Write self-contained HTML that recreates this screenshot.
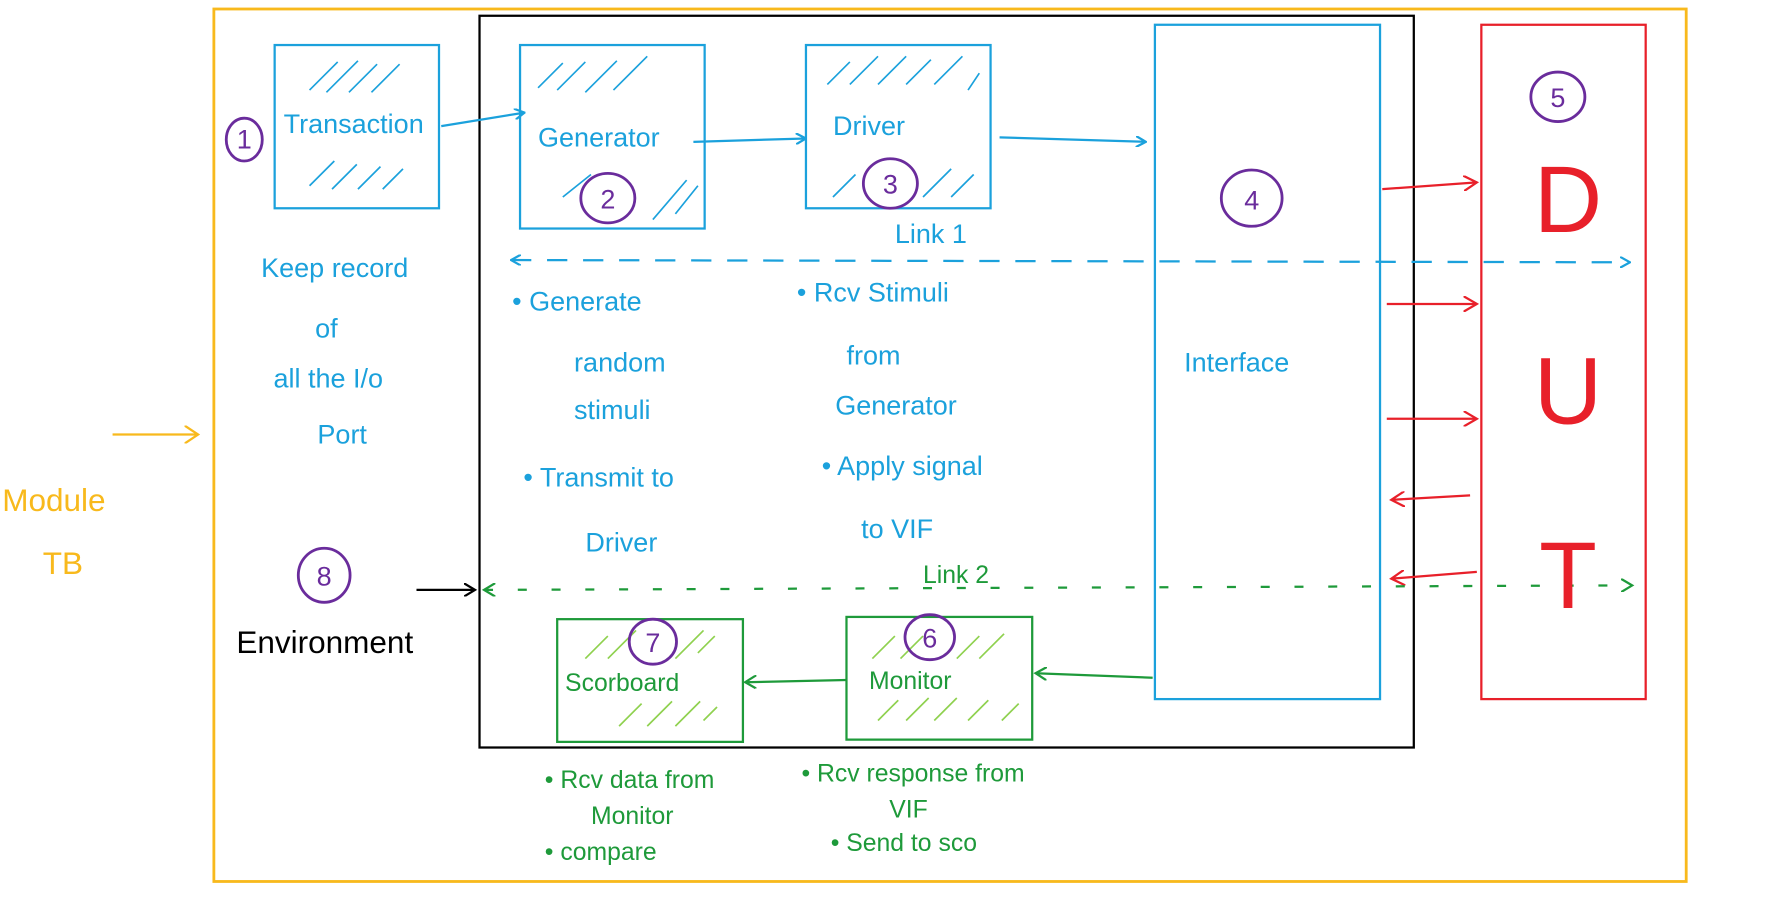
<!DOCTYPE html>
<html><head><meta charset="utf-8"><style>
html,body{margin:0;padding:0;background:#fff;}
svg{display:block}
text{font-family:"Liberation Sans",sans-serif;}
</style></head><body>
<svg width="1765" height="913" viewBox="0 0 1568 811" preserveAspectRatio="none" xmlns="http://www.w3.org/2000/svg">
<defs>
<marker id="ab" markerWidth="10" markerHeight="10" refX="9" refY="5" orient="auto-start-reverse" markerUnits="userSpaceOnUse"><path d="M0,0 L9,5 L0,10" fill="none" stroke="#1ba1dc" stroke-width="2"/></marker>
<marker id="ar" markerWidth="14" markerHeight="14" refX="12" refY="7" orient="auto" markerUnits="userSpaceOnUse"><path d="M0,0 L12,7 L0,14" fill="none" stroke="#e8202a" stroke-width="2"/></marker>
<marker id="ag" markerWidth="12" markerHeight="12" refX="10" refY="6" orient="auto-start-reverse" markerUnits="userSpaceOnUse"><path d="M0,0 L10,6 L0,12" fill="none" stroke="#1e9a3a" stroke-width="2"/></marker>
<marker id="ak" markerWidth="12" markerHeight="12" refX="10" refY="6" orient="auto" markerUnits="userSpaceOnUse"><path d="M0,0 L10,6 L0,12" fill="none" stroke="#000" stroke-width="2"/></marker>
<marker id="ay" markerWidth="14" markerHeight="16" refX="12" refY="8" orient="auto" markerUnits="userSpaceOnUse"><path d="M0,0 L12,8 L0,16" fill="none" stroke="#f8b91c" stroke-width="2"/></marker>
</defs>
<rect x="190" y="8" width="1308" height="775" fill="none" stroke="#f8b91c" stroke-width="2.5"/>
<rect x="426" y="14" width="830" height="650" fill="none" stroke="#000" stroke-width="2"/>
<g fill="none" stroke="#1ba1dc" stroke-width="2">
<rect x="244" y="40" width="146" height="145"/>
<rect x="462" y="40" width="164" height="163"/>
<rect x="716" y="40" width="164" height="145"/>
<rect x="1026" y="22" width="200" height="599"/>
</g>
<g stroke="#1ba1dc" stroke-width="1.5">
<path d="M275,80 l25,-25 M290,82 l28,-28 M310,82 l25,-25 M330,82 l25,-25 M275,165 l22,-22 M295,168 l22,-22 M318,168 l20,-20 M340,168 l18,-18"/>
<path d="M478,78 l22,-22 M495,80 l25,-25 M520,82 l28,-28 M545,80 l30,-30 M580,195 l30,-35 M600,190 l20,-25 M500,175 l25,-20"/>
<path d="M735,75 l20,-20 M755,75 l25,-25 M780,75 l25,-25 M805,75 l22,-22 M830,75 l25,-25 M740,175 l20,-20 M820,175 l25,-25 M845,175 l20,-20 M860,80 l10,-15"/>
</g>
<rect x="1316" y="22" width="146" height="599" fill="none" stroke="#e8202a" stroke-width="2"/>
<g fill="none" stroke="#1e9a3a" stroke-width="2">
<rect x="495" y="550" width="165" height="109"/>
<rect x="752" y="548" width="165" height="109"/>
</g>
<g stroke="#8fd14f" stroke-width="1.5">
<path d="M520,585 l20,-20 M540,585 l25,-25 M600,585 l25,-25 M620,580 l15,-15 M550,645 l20,-20 M575,645 l22,-22 M600,645 l22,-22 M625,640 l12,-12"/>
<path d="M775,585 l20,-20 M800,585 l20,-20 M850,585 l20,-20 M870,585 l22,-22 M780,640 l18,-18 M805,640 l20,-20 M830,640 l20,-20 M860,640 l18,-18 M890,640 l15,-15"/>
</g>
<g fill="none" stroke="#1ba1dc" stroke-width="2">
<path d="M392,112 L466,100" marker-end="url(#ab)"/>
<path d="M616,126 L716,123" marker-end="url(#ab)"/>
<path d="M888,122 L1018,126" marker-end="url(#ab)"/>
<path d="M454,231 L1448,233" stroke-dasharray="18,14" marker-end="url(#ab)" marker-start="url(#ab)"/>
</g>
<g fill="none" stroke="#e8202a" stroke-width="2">
<path d="M1228,168 L1312,162" marker-end="url(#ar)"/>
<path d="M1232,270 L1312,270" marker-end="url(#ar)"/>
<path d="M1232,372 L1312,372" marker-end="url(#ar)"/>
<path d="M1306,440 L1236,444" marker-end="url(#ar)"/>
<path d="M1312,508 L1236,514" marker-end="url(#ar)"/>
</g>
<g fill="none" stroke="#1e9a3a" stroke-width="2">
<path d="M430,524 L1450,520" stroke-dasharray="8,22" marker-end="url(#ag)" marker-start="url(#ag)"/>
<path d="M752,604 L662,606" marker-end="url(#ag)"/>
<path d="M1024,602 L920,598" marker-end="url(#ag)"/>
</g>
<path d="M370,524 L422,524" stroke="#000" stroke-width="2" fill="none" marker-end="url(#ak)"/>
<path d="M100,386 L176,386" stroke="#f8b91c" stroke-width="2" fill="none" marker-end="url(#ay)"/>
<g fill="none" stroke="#6a2c9c" stroke-width="2.5">
<ellipse cx="217" cy="124" rx="16" ry="19"/>
<ellipse cx="540" cy="176" rx="24" ry="22"/>
<ellipse cx="791" cy="163" rx="24" ry="22"/>
<ellipse cx="1112" cy="176" rx="27" ry="25"/>
<ellipse cx="1384" cy="86" rx="24" ry="22"/>
<ellipse cx="288" cy="511" rx="23" ry="24"/>
<ellipse cx="580" cy="570" rx="21" ry="20"/>
<ellipse cx="826" cy="566" rx="22" ry="20"/>
</g>
<g fill="#6a2c9c" font-size="24" text-anchor="middle">
<text x="217" y="132">1</text><text x="540" y="185">2</text><text x="791" y="172">3</text><text x="1112" y="186">4</text><text x="1384" y="95">5</text><text x="288" y="520">8</text><text x="580" y="579">7</text><text x="826" y="575">6</text>
</g>
<g fill="#1ba1dc" font-size="24">
<text x="252" y="118">Transaction</text>
<text x="478" y="130">Generator</text>
<text x="740" y="120">Driver</text>
<text x="795" y="216">Link 1</text>
<text x="1052" y="330">Interface</text>
<text x="232" y="246">Keep record</text>
<text x="280" y="300">of</text>
<text x="243" y="344">all the I/o</text>
<text x="282" y="394">Port</text>
<text x="455" y="276">• Generate</text>
<text x="510" y="330">random</text>
<text x="510" y="372">stimuli</text>
<text x="465" y="432">• Transmit to</text>
<text x="520" y="490">Driver</text>
<text x="708" y="268">• Rcv Stimuli</text>
<text x="752" y="324">from</text>
<text x="742" y="368">Generator</text>
<text x="730" y="422">• Apply signal</text>
<text x="765" y="478">to VIF</text>
</g>
<g fill="#e8202a" font-size="84" text-anchor="middle">
<text x="1393" y="206">D</text><text x="1393" y="376">U</text><text x="1393" y="540">T</text>
</g>
<g fill="#1e9a3a" font-size="22">
<text x="820" y="518">Link 2</text>
<text x="502" y="614">Scorboard</text>
<text x="772" y="612">Monitor</text>
<text x="484" y="700">• Rcv data from</text>
<text x="525" y="732">Monitor</text>
<text x="484" y="764">• compare</text>
<text x="712" y="694">• Rcv response from</text>
<text x="790" y="726">VIF</text>
<text x="738" y="756">• Send to sco</text>
</g>
<text x="210" y="580" font-size="28" fill="#000">Environment</text>
<g fill="#f8b91c" font-size="28"><text x="2" y="454">Module</text><text x="38" y="510">TB</text></g>
</svg>
</body></html>
